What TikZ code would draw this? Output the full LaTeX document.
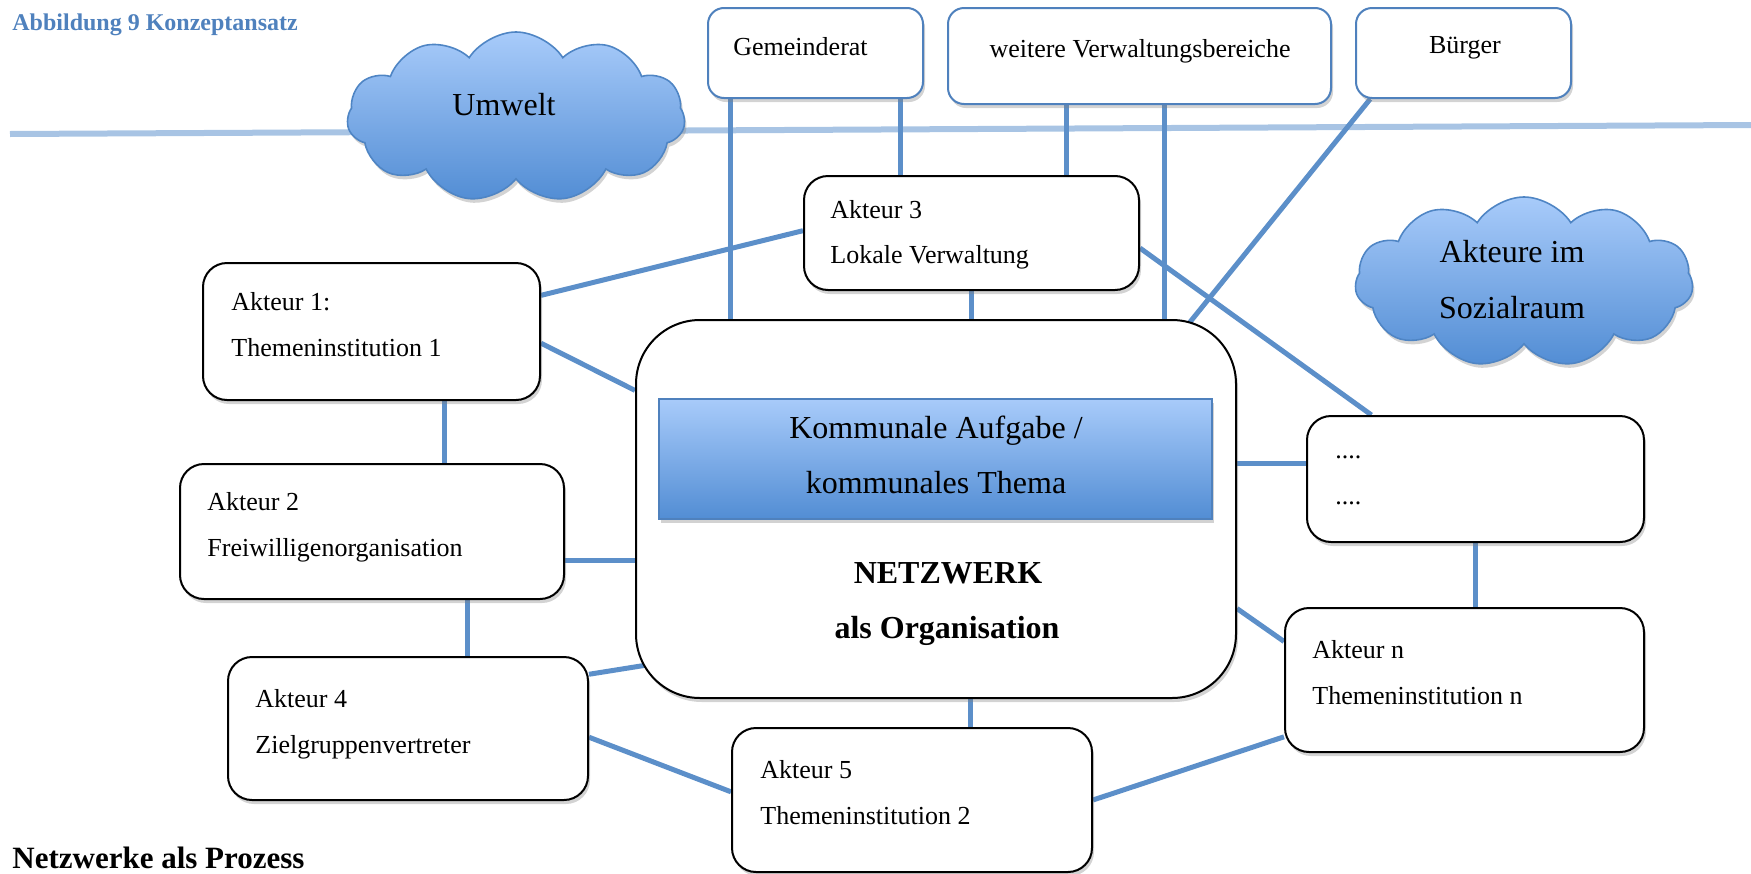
\documentclass[tikz,border=0pt]{standalone}
\usepackage{fontspec}
\setmainfont{Liberation Serif}
\usetikzlibrary{shapes.symbols,shadows,calc,backgrounds}
\definecolor{connblue}{RGB}{92,143,201}
\definecolor{lineblue}{RGB}{168,196,228}
\definecolor{topblue}{RGB}{79,129,189}
\definecolor{titleblue}{RGB}{79,129,189}
\definecolor{gradtop}{RGB}{168,203,250}
\definecolor{gradbot}{RGB}{82,141,212}
\definecolor{cloudborder}{RGB}{79,133,196}
\tikzset{
  conn/.style={draw=connblue, line width=2.5pt},
  shad/.style={drop shadow={shadow xshift=1pt, shadow yshift=-2pt, opacity=0.35}},
  actbox/.style={draw=black, line width=1pt, fill=white, rounded corners=12pt, inner sep=0pt, shad},
  topbox/.style={draw=topblue, line width=1pt, fill=white, rounded corners=8pt, inner sep=0pt, shad},
  lbl/.style={anchor=base west, inner sep=0pt, font=\fontsize{13}{15}\selectfont},
  clbl/.style={lbl, anchor=base},
  big/.style={anchor=base, inner sep=0pt, font=\fontsize{16}{19}\selectfont},
  bigb/.style={anchor=base, inner sep=0pt, font=\fontsize{16}{19}\selectfont\bfseries},
  wolke/.style={cloud, cloud puffs=11, cloud puff arc=115, cloud ignores aspect, draw=cloudborder, line width=0.8pt, top color=gradtop, bottom color=gradbot, inner sep=0pt, shad},
}
\begin{document}
\begin{tikzpicture}[x=0.5pt, y=-0.5pt]
\useasboundingbox (0,0) rectangle (1751,873);
% boxes
\node[topbox, minimum width=107.5pt, minimum height=45pt] (gem) at (815.5,53) {};
\node[topbox, minimum width=191.5pt, minimum height=48pt] (wvb) at (1139.5,56) {};
\node[topbox, minimum width=107.5pt, minimum height=45pt] (bue) at (1463.5,53) {};
\node[actbox, minimum width=167.5pt, minimum height=57pt] (a3) at (971.5,233) {};
\node[actbox, minimum width=168.5pt, minimum height=68.5pt] (a1) at (371.5,331.5) {};
\node[actbox, minimum width=192pt, minimum height=67.5pt] (a2) at (372,531.5) {};
\node[actbox, minimum width=180pt, minimum height=71.5pt] (a4) at (408,728.5) {};
\node[actbox, minimum width=180pt, minimum height=72pt] (a5) at (912,800) {};
\node[actbox, minimum width=168.5pt, minimum height=63pt] (dots) at (1475.5,479) {};
\node[actbox, minimum width=179.5pt, minimum height=72pt] (an) at (1464.5,680) {};
\node[draw=black, line width=1pt, fill=white, rounded corners=32pt, inner sep=0pt, shad, minimum width=300pt, minimum height=189pt] (cen) at (936,509) {};
\node[draw=topblue, line width=0.8pt, top color=gradtop, bottom color=gradbot, inner sep=0pt, shad, minimum width=276.5pt, minimum height=60pt] (theme) at (935.5,459) {};
% clouds
\node[wolke, minimum width=169pt, minimum height=85pt] (umw) at (516,117) {};
\node[wolke, minimum width=169pt, minimum height=85pt] (soz) at (1524,282) {};
% connectors
\begin{pgfonlayer}{background}
\coordinate (hl1) at (10,134);
\coordinate (hl2) at (1751,125);
\draw[draw=lineblue, line width=3pt] (hl1) -- (hl2);
\coordinate (p1) at ($(gem.south west)!0.107!(gem.south east)$);
\draw[conn] (p1) -- (p1 |- cen.north);
\coordinate (p2) at ($(gem.south west)!0.893!(gem.south east)$);
\draw[conn] (p2) -- (p2 |- a3.north);
\coordinate (p3) at ($(wvb.south west)!0.311!(wvb.south east)$);
\draw[conn] (p3) -- (p3 |- a3.north);
\coordinate (p4) at ($(wvb.south west)!0.564!(wvb.south east)$);
\draw[conn] (p4) -- (p4 |- cen.north);
\coordinate (p5) at ($(bue.south west)!0.07!(bue.south east)$);
\coordinate (q5) at ($(cen.north west)+(551,8)$);
\draw[conn] (p5) -- (q5);
\draw[conn] (a3.south) -- (a3.south |- cen.north);
\coordinate (p7) at ($(a3.north east)!0.63!(a3.south east)$);
\coordinate (q7) at ($(dots.north west)!0.193!(dots.north east)$);
\draw[conn] (p7) -- (q7);
\coordinate (p8) at ($(a3.north west)!0.48!(a3.south west)$);
\coordinate (q8) at ($(a1.north east)!0.24!(a1.south east)$);
\draw[conn] (p8) -- (q8);
\coordinate (p9) at ($(a1.north east)!0.584!(a1.south east)$);
\coordinate (q9) at ($(cen.north west)!0.188!(cen.south west)$);
\draw[conn] (p9) -- (q9);
\coordinate (p10) at ($(a1.south west)!0.715!(a1.south east)$);
\draw[conn] (p10) -- (p10 |- a2.north);
\coordinate (p11) at ($(a2.north east)!0.711!(a2.south east)$);
\draw[conn] (p11) -- (p11 -| cen.west);
\coordinate (p12) at ($(a2.south west)!0.747!(a2.south east)$);
\draw[conn] (p12) -- (p12 |- a4.north);
\coordinate (p13) at ($(a4.north east)!0.126!(a4.south east)$);
\coordinate (q13) at ($(cen.south west)+(12,-34)$);
\draw[conn] (p13) -- (q13);
\coordinate (p14) at ($(a4.north east)!0.56!(a4.south east)$);
\coordinate (q14) at ($(a5.north west)!0.444!(a5.south west)$);
\draw[conn] (p14) -- (q14);
\coordinate (p15) at ($(cen.south west)!0.558!(cen.south east)$);
\draw[conn] (p15) -- (p15 |- a5.north);
\coordinate (q16) at ($(an.north west)!0.889!(an.south west)$);
\draw[conn] (a5.east) -- (q16);
\coordinate (p17) at ($(cen.north east)!0.762!(cen.south east)$);
\coordinate (q17) at ($(an.north west)!0.236!(an.south west)$);
\draw[conn] (p17) -- (q17);
\coordinate (p18) at ($(cen.north east)!0.381!(cen.south east)$);
\draw[conn] (p18) -- (p18 -| dots.west);
\draw[conn] (dots.south) -- (dots.south |- an.north);
\end{pgfonlayer}
% texts
\node[anchor=base west, inner sep=0pt, font=\fontsize{12}{14}\selectfont\bfseries, text=titleblue] (title) at (12,30) {Abbildung 9 Konzeptansatz};
\node[anchor=base west, inner sep=0pt, font=\fontsize{15.5}{18}\selectfont\bfseries] (proz) at (12,868) {Netzwerke als Prozess};
\node[lbl] (tgem) at (733,55) {Gemeinderat};
\node[clbl] (twvb) at (1140,57) {weitere Verwaltungsbereiche};
\node[clbl] (tbue) at (1465,53) {Bürger};
\node[lbl] (t3a) at (830,218) {Akteur 3};
\node[lbl] (t3b) at (830,263) {Lokale Verwaltung};
\node[lbl] (t1a) at (231,310) {Akteur 1:};
\node[lbl] (t1b) at (231,356) {Themeninstitution 1};
\node[lbl] (t2a) at (207,510) {Akteur 2};
\node[lbl] (t2b) at (207,556) {Freiwilligenorganisation};
\node[lbl] (t4a) at (255,707) {Akteur 4};
\node[lbl] (t4b) at (255,753) {Zielgruppenvertreter};
\node[lbl] (t5a) at (760,778) {Akteur 5};
\node[lbl] (t5b) at (760,824) {Themeninstitution 2};
\node[lbl] (tda) at (1335,458) {....};
\node[lbl] (tdb) at (1335,504) {....};
\node[lbl] (tna) at (1312,658) {Akteur n};
\node[lbl] (tnb) at (1312,704) {Themeninstitution n};
\node[big] (tumw) at (504,115) {Umwelt};
\node[big] (tsoza) at (1512,262) {Akteure im};
\node[big] (tsozb) at (1512,318) {Sozialraum};
\node[big] (tthema) at (936,438) {Kommunale Aufgabe /};
\node[big] (tthemb) at (936,493) {kommunales Thema};
\node[bigb] (tneta) at (948,583) {NETZWERK};
\node[bigb] (tnetb) at (947,638) {als Organisation};
\end{tikzpicture}
\end{document}
